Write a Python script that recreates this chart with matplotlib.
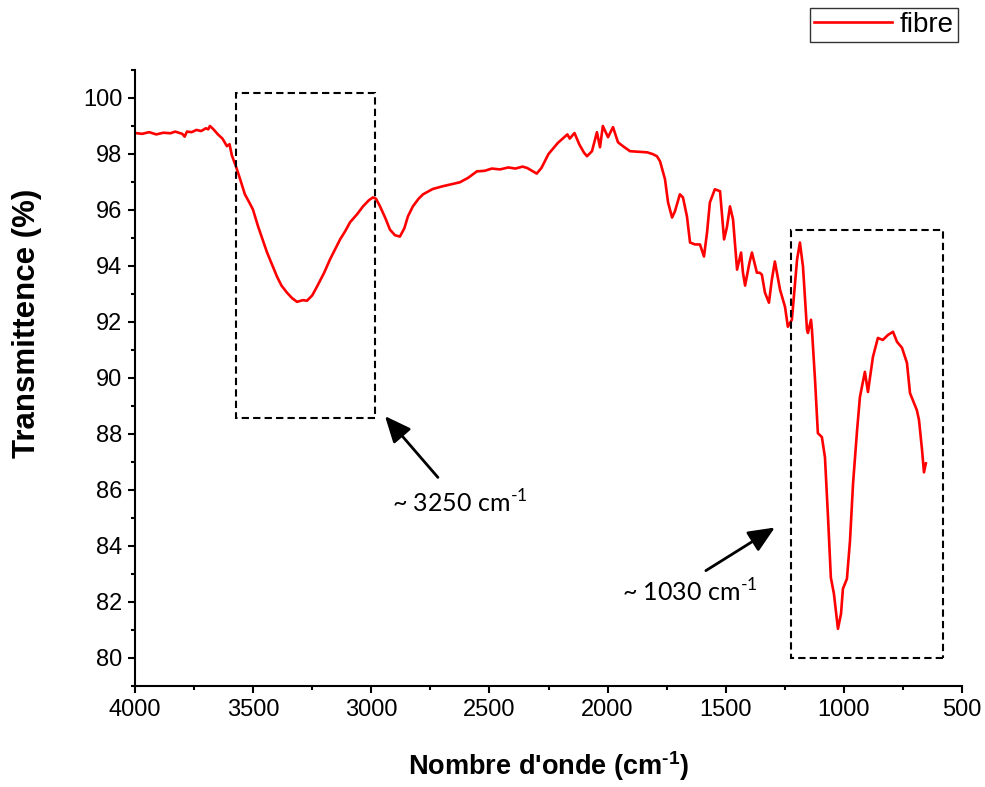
import matplotlib
matplotlib.use("Agg")
import matplotlib.pyplot as plt
from matplotlib.patches import Rectangle
from matplotlib.ticker import MultipleLocator

wavenumber = [4000, 3970, 3940, 3910, 3880, 3850, 3830, 3800, 3790, 3780, 3760, 3740, 3720, 3700,
              3690, 3683, 3670, 3649, 3630, 3611, 3600, 3590, 3573, 3555, 3535, 3515, 3501, 3479,
              3460, 3441, 3420, 3399, 3380, 3357, 3335, 3314, 3290, 3272, 3250, 3230, 3200, 3175,
              3150, 3132, 3110, 3090, 3060, 3035, 3010, 2993, 2980, 2963, 2940, 2921, 2900, 2879,
              2860, 2845, 2824, 2800, 2781, 2740, 2697, 2660, 2625, 2590, 2553, 2520, 2490, 2455,
              2420, 2390, 2360, 2340, 2316, 2300, 2280, 2250, 2230, 2210, 2190, 2170, 2160, 2140,
              2120, 2100, 2087, 2066, 2045, 2032, 2020, 1998, 1977, 1956, 1935, 1905, 1870, 1833,
              1810, 1791, 1778, 1757, 1744, 1727, 1715, 1694, 1681, 1664, 1651, 1630, 1609, 1592,
              1579, 1567, 1546, 1524, 1507, 1495, 1482, 1469, 1452, 1435, 1427, 1418, 1400, 1389,
              1368, 1356, 1347, 1334, 1317, 1305, 1292, 1270, 1249, 1237, 1220, 1198, 1186, 1173,
              1156, 1152, 1139, 1135, 1122, 1110, 1093, 1080, 1067, 1055, 1042, 1029, 1025, 1012,
              1004, 987, 974, 961, 944, 932, 911, 898, 877, 856, 835, 813, 792, 775, 754, 733, 720,
              708, 691, 682, 669, 661, 653]
transmittance = [98.75, 98.72, 98.78, 98.70, 98.76, 98.74, 98.80, 98.72, 98.62, 98.80, 98.78, 98.86,
                 98.82, 98.92, 98.88, 99.00, 98.90, 98.70, 98.55, 98.28, 98.35, 97.95, 97.56, 97.10,
                 96.56, 96.25, 96.02, 95.41, 94.95, 94.48, 94.05, 93.62, 93.30, 93.05, 92.85, 92.72,
                 92.78, 92.76, 92.95, 93.26, 93.75, 94.23, 94.65, 94.95, 95.25, 95.56, 95.85, 96.13,
                 96.35, 96.45, 96.40, 96.13, 95.70, 95.30, 95.10, 95.05, 95.35, 95.77, 96.13, 96.40,
                 96.56, 96.75, 96.85, 96.92, 96.99, 97.15, 97.38, 97.40, 97.48, 97.45, 97.52, 97.48,
                 97.55, 97.50, 97.38, 97.30, 97.50, 98.00, 98.20, 98.40, 98.55, 98.70, 98.55, 98.75,
                 98.35, 98.05, 97.92, 98.10, 98.78, 98.24, 99.00, 98.60, 98.96, 98.42, 98.28, 98.10,
                 98.08, 98.06, 98.00, 97.92, 97.74, 97.10, 96.27, 95.73, 95.95, 96.56, 96.45, 95.77,
                 94.84, 94.77, 94.77, 94.34, 95.20, 96.27, 96.74, 96.67, 94.95, 95.38, 96.13, 95.66,
                 93.87, 94.48, 93.76, 93.30, 94.10, 94.48, 93.76, 93.76, 93.69, 93.05, 92.69, 93.50,
                 94.16, 93.15, 92.54, 91.83, 92.08, 94.23, 94.84, 93.98, 91.72, 91.61, 92.08, 91.72,
                 89.93, 88.03, 87.89, 87.17, 85.02, 82.87, 82.29, 81.33, 81.04, 81.58, 82.47, 82.83,
                 84.19, 86.24, 88.14, 89.32, 90.22, 89.50, 90.75, 91.43, 91.36, 91.54, 91.65, 91.29,
                 91.08, 90.54, 89.46, 89.21, 88.85, 88.50, 87.42, 86.63, 86.95]

series_label = "fibre"
x_label = "Nombre d'onde (cm$^{\\mathregular{\u20101}}$)"
y_label = "Transmittence (%)"
annot_labels = ["~ 3250 cm$^{\\mathregular{\u20101}}$", "~ 1030 cm$^{\\mathregular{\u20101}}$"]

# highlighted regions: (x_left, x_right, y_bottom, y_top)
boxes = [(3573, 2984, 88.57, 100.18), (1224, 581, 80.0, 95.27)]
# arrows: (text_x, text_y, tail_x, tail_y, head_x, head_y)
arrows = [(2625, 85.55, 2718, 86.45, 2942, 88.64),
          (1651, 82.35, 1584, 83.12, 1292, 84.66)]

plt.rcParams['font.family'] = ['Liberation Sans', 'DejaVu Sans']

fig = plt.figure(figsize=(9.85, 7.87), dpi=100)
ax = fig.add_axes([135/985, 1-686/787, (962-135)/985, (686-70)/787])

ax.plot(wavenumber, transmittance, color='#ff0000', lw=1.9, label=series_label)

for (x0, x1, y0, y1) in boxes:
    ax.add_patch(Rectangle((min(x0, x1), y0), abs(x1 - x0), y1 - y0, fill=False,
                           edgecolor='black', lw=1.5, linestyle=(0, (3.5, 2)), zorder=3))

for lab, (tx, ty, sx, sy, hx, hy) in zip(annot_labels, arrows):
    ax.annotate("", xy=(hx, hy), xytext=(sx, sy),
                arrowprops=dict(arrowstyle='-|>,head_length=0.8,head_width=0.35',
                                color='black', lw=2, shrinkA=0, shrinkB=0, mutation_scale=20))
    ax.text(tx, ty, lab, ha='center', va='center', fontsize=18, family=['Lato', 'DejaVu Sans'])

ax.set_xlim(4000, 500)
ax.set_ylim(79, 101)
ax.xaxis.set_major_locator(MultipleLocator(500))
ax.xaxis.set_minor_locator(MultipleLocator(250))
ax.yaxis.set_major_locator(MultipleLocator(2))
ax.yaxis.set_minor_locator(MultipleLocator(1))
ax.set_yticks([80, 82, 84, 86, 88, 90, 92, 94, 96, 98, 100])

for s in ['top', 'right']:
    ax.spines[s].set_visible(False)
for s in ['left', 'bottom']:
    ax.spines[s].set_linewidth(1.5)

ax.tick_params(which='major', direction='out', length=5, width=1.5, labelsize=17, pad=4)
ax.tick_params(which='minor', direction='out', length=3, width=1.5)

ax.set_xlabel(x_label, fontsize=19.5, fontweight='bold')
ax.set_ylabel(y_label, fontsize=22.5, fontweight='bold')
ax.xaxis.set_label_coords(0.5, -0.103)
ax.yaxis.set_label_coords(-0.112, 0.588)

leg = fig.legend(loc='upper right', bbox_to_anchor=(958/985, 1-8/787), fontsize=20,
                 frameon=True, fancybox=False, handlelength=2.8, borderpad=0.15,
                 handletextpad=0.3, borderaxespad=0)
leg.get_frame().set_edgecolor('black')
leg.get_frame().set_linewidth(1.0)

fig.savefig('out.png', dpi=100)
